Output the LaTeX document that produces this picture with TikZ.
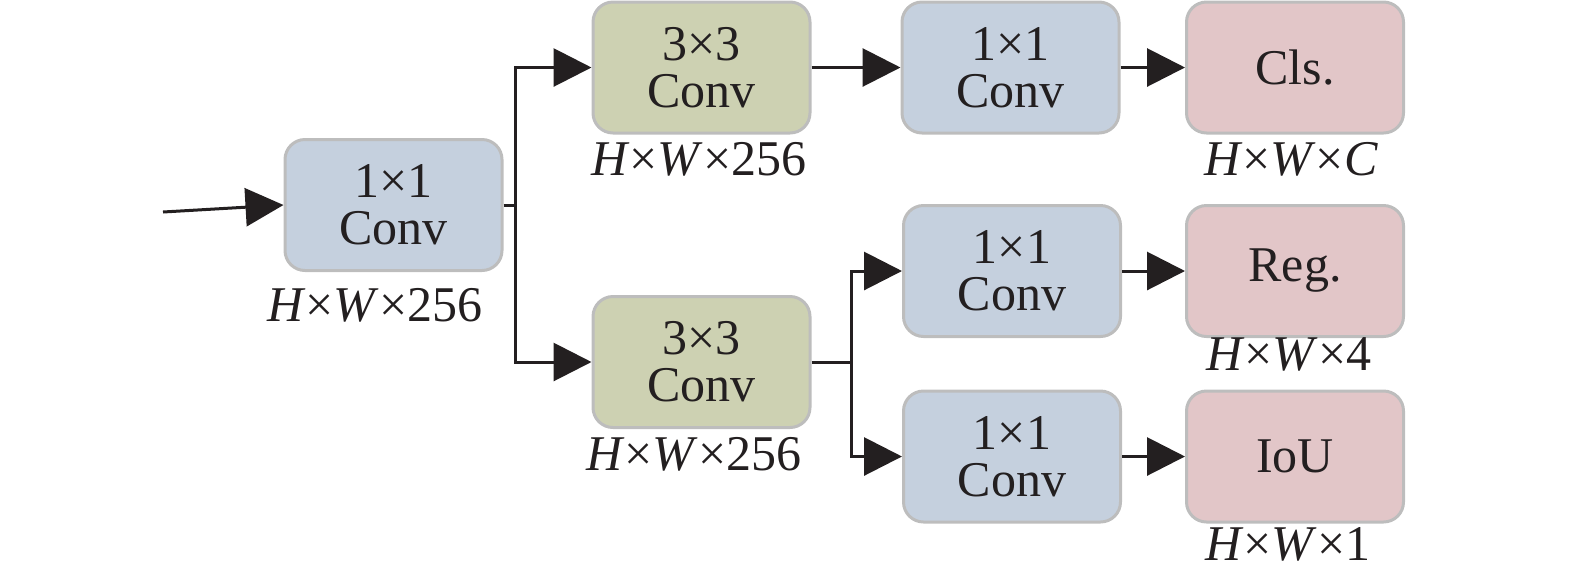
\documentclass[tikz,border=0pt]{standalone}
\usepackage{fontspec}
\setmainfont{Liberation Serif}
\usetikzlibrary{arrows.meta}
\definecolor{bluef}{HTML}{C5D0DE}
\definecolor{greenf}{HTML}{CDD1B2}
\definecolor{pinkf}{HTML}{E2C6C8}
\definecolor{edgec}{HTML}{BDBDBD}
\definecolor{ink}{HTML}{231F20}
\begin{document}
\begin{tikzpicture}[x=0.5pt,y=-0.5pt,
  box/.style={draw=edgec,line width=1.5pt,rounded corners=10pt,minimum width=108.5pt,minimum height=65.5pt,inner sep=0pt,align=center,text=ink,font=\fontsize{25}{23.5}\selectfont},
  bluebox/.style={box,fill=bluef},
  greenbox/.style={box,fill=greenf},
  pinkbox/.style={box,fill=pinkf},
  dim/.style={anchor=base,text=ink,inner sep=0pt,font=\fontsize{25}{25}\selectfont},
  conn/.style={draw=ink,line width=1.5pt},
  arr/.style={conn,-{Triangle[length=19pt,width=19pt]}}]
\useasboundingbox (0,0) rectangle (1575,585);
% boxes
\node[bluebox]  (A)   at (393.5,205) {1×1\\Conv};
\node[greenbox] (B)   at (701.5,67.5) {3×3\\Conv};
\node[greenbox] (D)   at (701.5,362) {3×3\\Conv};
\node[bluebox]  (C)   at (1010.5,67.5) {1×1\\Conv};
\node[bluebox]  (E)   at (1012,271) {1×1\\Conv};
\node[bluebox]  (F)   at (1012,456.5) {1×1\\Conv};
\node[pinkbox]  (cls) at (1295,67.5) {Cls.};
\node[pinkbox]  (reg) at (1295,271) {Reg.};
\node[pinkbox]  (iou) at (1295,456.5) {IoU};
% dimension labels
\node[dim] (lA)   at (375,321) {\textit{H}×\textit{W}×256};
\node[dim] (lB)   at (699,175) {\textit{H}×\textit{W}×256};
\node[dim] (lD)   at (694,470) {\textit{H}×\textit{W}×256};
\node[dim] (lcls) at (1291,175) {\textit{H}×\textit{W}×\textit{C}};
\node[dim] (lreg) at (1289,370) {\textit{H}×\textit{W}×4};
\node[dim] (liou) at (1288,560) {\textit{H}×\textit{W}×1};
% connectors
\coordinate (in) at (163,212);
\draw[arr] (in) -- (A.west);
\coordinate (s1) at (515,205);
\draw[conn] (A.east) -- (s1);
\draw[arr] (s1) |- (B.west);
\draw[arr] (s1) |- (D.west);
\draw[arr] (B.east) -- (C.west);
\draw[arr] (C.east) -- (cls.west);
\coordinate (s2) at (851,362);
\draw[conn] (D.east) -- (s2);
\draw[arr] (s2) |- (E.west);
\draw[arr] (s2) |- (F.west);
\draw[arr] (E.east) -- (reg.west);
\draw[arr] (F.east) -- (iou.west);
\end{tikzpicture}
\end{document}
